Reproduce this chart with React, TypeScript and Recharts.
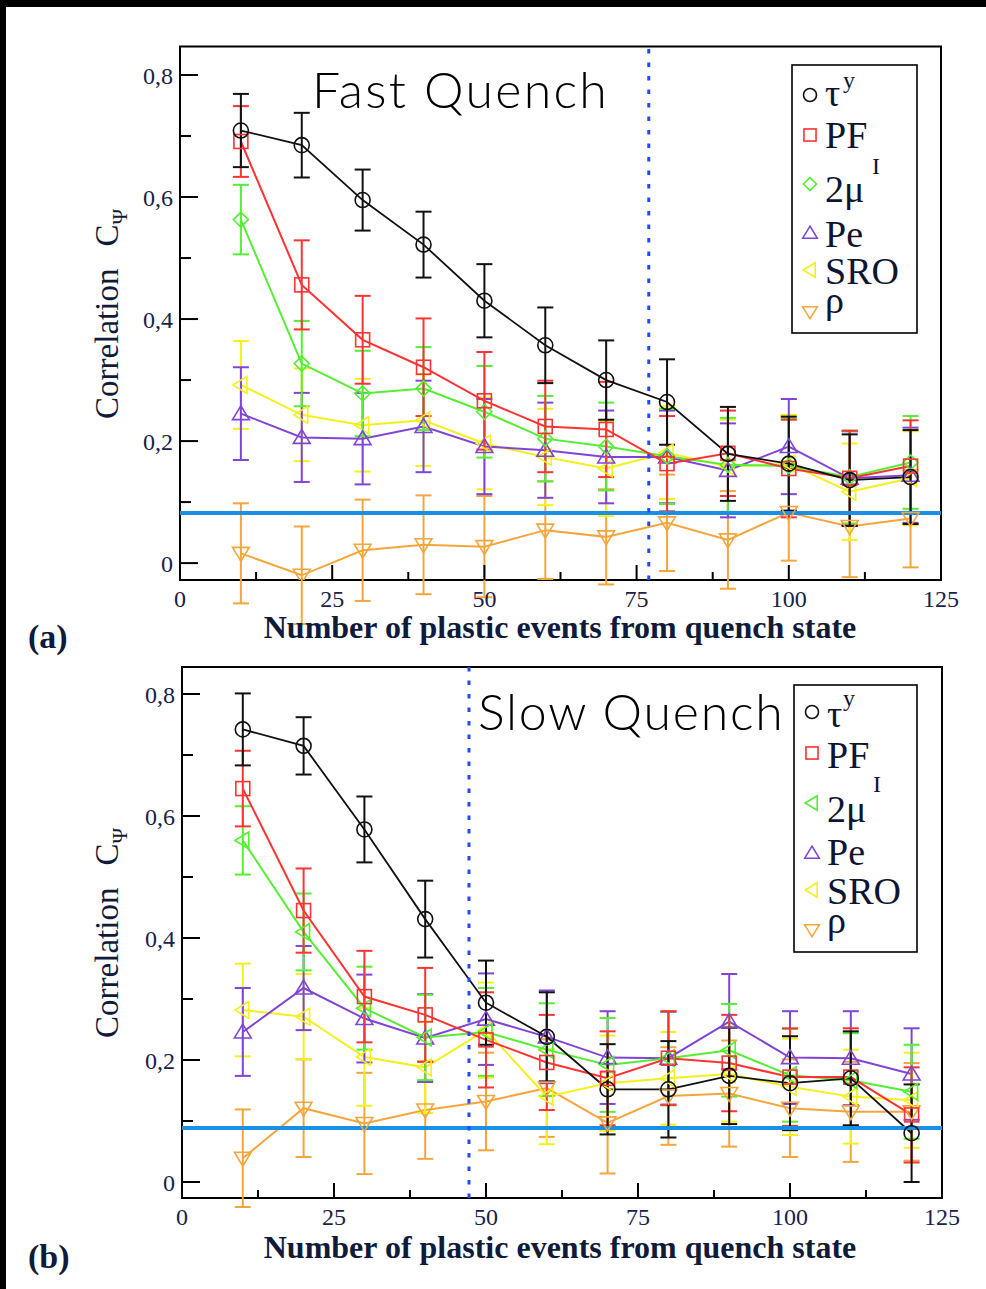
import {
  LineChart,
  Line,
  XAxis,
  YAxis,
  ErrorBar,
  ReferenceLine,
  ReferenceArea,
} from "recharts";

// number of plastic events since the quench
const events = [10, 20, 30, 40, 50, 60, 70, 80, 90, 100, 110, 120];

// (a) fast quench
const tauFast = [0.709, 0.685, 0.595, 0.522, 0.43, 0.357, 0.3, 0.264, 0.179, 0.163, 0.136, 0.141];
const tauFastErr = [0.06, 0.053, 0.05, 0.054, 0.06, 0.062, 0.065, 0.07, 0.077, 0.077, 0.075, 0.077];
const pfFast = [0.691, 0.456, 0.366, 0.321, 0.266, 0.224, 0.219, 0.163, 0.18, 0.155, 0.139, 0.159];
const pfFastErr = [0.058, 0.073, 0.072, 0.08, 0.08, 0.075, 0.078, 0.078, 0.07, 0.08, 0.078, 0.075];
const muFast = [0.563, 0.327, 0.278, 0.286, 0.248, 0.204, 0.191, 0.175, 0.161, 0.159, 0.141, 0.165];
const muFastErr = [0.057, 0.07, 0.07, 0.068, 0.075, 0.07, 0.072, 0.078, 0.077, 0.078, 0.076, 0.076];
const peFast = [0.245, 0.206, 0.204, 0.224, 0.191, 0.185, 0.174, 0.174, 0.152, 0.191, 0.139, 0.144];
const peFastErr = [0.076, 0.073, 0.075, 0.075, 0.078, 0.078, 0.076, 0.076, 0.077, 0.078, 0.077, 0.078];
const sroFast = [0.292, 0.243, 0.226, 0.234, 0.196, 0.174, 0.155, 0.181, 0.158, 0.163, 0.117, 0.139];
const sroFastErr = [0.072, 0.076, 0.076, 0.075, 0.075, 0.079, 0.078, 0.076, 0.077, 0.08, 0.079, 0.077];
const rhoFast = [0.016, -0.02, 0.021, 0.03, 0.027, 0.054, 0.043, 0.066, 0.038, 0.083, 0.06, 0.073];
const rhoFastErr = [0.082, 0.08, 0.083, 0.081, 0.083, 0.08, 0.078, 0.079, 0.08, 0.079, 0.083, 0.08];

// (b) slow quench
const tauSlow = [0.742, 0.715, 0.578, 0.431, 0.294, 0.238, 0.152, 0.152, 0.174, 0.162, 0.17, 0.08];
const tauSlowErr = [0.059, 0.047, 0.054, 0.063, 0.069, 0.073, 0.074, 0.079, 0.079, 0.077, 0.077, 0.08];
const pfSlow = [0.645, 0.445, 0.304, 0.274, 0.233, 0.196, 0.17, 0.203, 0.195, 0.172, 0.172, 0.11];
const pfSlowErr = [0.062, 0.069, 0.075, 0.077, 0.078, 0.078, 0.077, 0.077, 0.079, 0.08, 0.08, 0.078];
const muSlow = [0.56, 0.41, 0.285, 0.237, 0.246, 0.217, 0.192, 0.203, 0.216, 0.175, 0.167, 0.148];
const muSlowErr = [0.056, 0.063, 0.068, 0.07, 0.072, 0.076, 0.077, 0.077, 0.076, 0.076, 0.077, 0.077];
const peSlow = [0.246, 0.318, 0.268, 0.236, 0.267, 0.238, 0.204, 0.203, 0.263, 0.204, 0.203, 0.177];
const peSlowErr = [0.072, 0.069, 0.072, 0.072, 0.075, 0.076, 0.076, 0.076, 0.078, 0.076, 0.077, 0.075];
const sroSlow = [0.282, 0.271, 0.205, 0.188, 0.249, 0.14, 0.162, 0.17, 0.177, 0.156, 0.14, 0.134];
const sroSlowErr = [0.076, 0.07, 0.08, 0.075, 0.078, 0.078, 0.078, 0.076, 0.078, 0.079, 0.077, 0.078];
const rhoSlow = [0.039, 0.121, 0.096, 0.118, 0.132, 0.154, 0.097, 0.141, 0.145, 0.121, 0.115, 0.115];
const rhoSlowErr = [0.08, 0.08, 0.083, 0.08, 0.08, 0.08, 0.083, 0.08, 0.087, 0.08, 0.082, 0.08];

// horizontal noise level and vertical cut-off
const noiseFast = 0.082;
const noiseSlow = 0.0885;
const cutoffFast = 77;
const cutoffSlow = 47.2;

const xTicks = [0, 12.5, 25, 37.5, 50, 62.5, 75, 87.5, 100, 112.5, 125];
const yTicks = [0, 0.1, 0.2, 0.3, 0.4, 0.5, 0.6, 0.7, 0.8];

const COLORS = {
  tau: "#111111",
  pf: "#ff3333",
  mu: "#55ee33",
  pe: "#8044d6",
  sro: "#f4f01c",
  rho: "#f5a53c",
};

const SERIF = "'Liberation Serif', 'Times New Roman', serif";
const TICK_COLOR = "#18224a";

type Shape = "circle" | "square" | "diamond" | "up" | "down" | "left";

type Series = {
  key: string;
  color: string;
  shape: Shape;
  values: number[];
  errors: number[];
};

function Marker({ cx, cy, shape, color, s = 7.5 }: { cx: number; cy: number; shape: Shape; color: string; s?: number }) {
  if (cx == null || cy == null) return null;
  const common = { fill: "none", stroke: color, strokeWidth: 1.6 };
  if (shape === "circle") return <circle cx={cx} cy={cy} r={s} {...common} />;
  if (shape === "square")
    return <rect x={cx - s * 0.93} y={cy - s * 0.93} width={s * 1.86} height={s * 1.86} {...common} />;
  let pts: number[][] = [];
  if (shape === "diamond") pts = [[0, -s], [s, 0], [0, s], [-s, 0]];
  if (shape === "up") pts = [[0, -s * 1.05], [s * 1.12, s * 0.8], [-s * 1.12, s * 0.8]];
  if (shape === "down") pts = [[0, s * 1.05], [s * 1.12, -s * 0.8], [-s * 1.12, -s * 0.8]];
  if (shape === "left") pts = [[-s * 1.05, 0], [s * 0.8, -s * 1.12], [s * 0.8, s * 1.12]];
  return <polygon points={pts.map(([dx, dy]) => `${cx + dx},${cy + dy}`).join(" ")} {...common} />;
}

function XTick(props: any) {
  const { x, y, payload } = props;
  const v = payload.value;
  const major = v % 25 === 0;
  return (
    <g>
      <line x1={x} x2={x} y1={y} y2={y - (major ? 15 : 8)} stroke="#000" strokeWidth={2} />
      {major && (
        <text x={x} y={y + 27} textAnchor="middle" fontFamily={SERIF} fontSize={24} fill={TICK_COLOR}>
          {v}
        </text>
      )}
    </g>
  );
}

function YTick(props: any) {
  const { x, y, payload } = props;
  const v = payload.value;
  const major = Math.round(v * 10) % 2 === 0;
  const label = v === 0 ? "0" : v.toFixed(1).replace(".", ",");
  return (
    <g>
      <line x1={x} x2={x + (major ? 18 : 11)} y1={y} y2={y} stroke="#000" strokeWidth={2} />
      {major && (
        <text x={x - 7} y={y} dy="0.36em" textAnchor="end" fontFamily={SERIF} fontSize={24} fill={TICK_COLOR}>
          {label}
        </text>
      )}
    </g>
  );
}

function buildRows(series: Series[]) {
  return events.map((x, i) => {
    const row: Record<string, number> = { x };
    series.forEach((s) => {
      row[s.key] = s.values[i];
      row[s.key + "Err"] = s.errors[i];
    });
    return row;
  });
}

type PanelProps = {
  series: Series[];
  height: number;
  margin: { top: number; right: number; bottom: number; left: number };
  yDomain: [number, number];
  noise: number;
  cutoff: number;
};

function Panel({ series, height, margin, yDomain, noise, cutoff }: PanelProps) {
  const data = buildRows(series);
  return (
    <LineChart width={986} height={height} data={data} margin={margin}>
      <ReferenceArea
        x1={0}
        x2={125}
        y1={yDomain[0]}
        y2={yDomain[1]}
        fill="none"
        stroke="#000"
        strokeWidth={2}
        fillOpacity={0}
        ifOverflow="visible"
      />
      <XAxis
        type="number"
        dataKey="x"
        domain={[0, 125]}
        ticks={xTicks}
        interval={0}
        tickSize={0}
        tickMargin={0}
        tickLine={false}
        axisLine={false}
        height={40}
        allowDataOverflow
        tick={(p: any) => <XTick {...p} />}
      />
      <YAxis
        type="number"
        domain={yDomain}
        ticks={yTicks}
        interval={0}
        tickSize={0}
        tickMargin={0}
        tickLine={false}
        axisLine={false}
        width={60}
        allowDataOverflow
        tick={(p: any) => <YTick {...p} />}
      />
      {series.map((s) => (
        <Line
          key={s.key}
          type="linear"
          dataKey={s.key}
          stroke={s.color}
          strokeWidth={s.key === "tau" ? 1.8 : 2}
          isAnimationActive={false}
          dot={(p: any) => (
            <Marker key={`${s.key}-${p.index}`} cx={p.cx} cy={p.cy} shape={s.shape} color={s.color} />
          )}
          activeDot={false}
        >
          <ErrorBar
            dataKey={s.key + "Err"}
            direction="y"
            width={8}
            strokeWidth={2}
            stroke={s.color}
          />
        </Line>
      ))}
      <ReferenceLine y={noise} stroke="#1b8fe3" strokeWidth={4} />
      <ReferenceLine x={cutoff} stroke="#2448ff" strokeWidth={3} strokeDasharray="4.5 9" />
    </LineChart>
  );
}

const fastSeries: Series[] = [
  { key: "rho", color: COLORS.rho, shape: "down", values: rhoFast, errors: rhoFastErr },
  { key: "sro", color: COLORS.sro, shape: "left", values: sroFast, errors: sroFastErr },
  { key: "pe", color: COLORS.pe, shape: "up", values: peFast, errors: peFastErr },
  { key: "mu", color: COLORS.mu, shape: "diamond", values: muFast, errors: muFastErr },
  { key: "pf", color: COLORS.pf, shape: "square", values: pfFast, errors: pfFastErr },
  { key: "tau", color: COLORS.tau, shape: "circle", values: tauFast, errors: tauFastErr },
];

const slowSeries: Series[] = [
  { key: "rho", color: COLORS.rho, shape: "down", values: rhoSlow, errors: rhoSlowErr },
  { key: "sro", color: COLORS.sro, shape: "left", values: sroSlow, errors: sroSlowErr },
  { key: "pe", color: COLORS.pe, shape: "up", values: peSlow, errors: peSlowErr },
  { key: "mu", color: COLORS.mu, shape: "left", values: muSlow, errors: muSlowErr },
  { key: "pf", color: COLORS.pf, shape: "square", values: pfSlow, errors: pfSlowErr },
  { key: "tau", color: COLORS.tau, shape: "circle", values: tauSlow, errors: tauSlowErr },
];

type LegendRow = { shape: Shape; color: string; sy: number; by: number; text: string; sup?: string; supX?: number; supY?: number };

function LegendBox({ x, y, w, h, tx, rows }: { x: number; y: number; w: number; h: number; tx: number; rows: LegendRow[] }) {
  return (
    <g>
      <rect x={x} y={y} width={w} height={h} fill="#fff" stroke="#000" strokeWidth={1.6} />
      {rows.map((r, i) => (
        <g key={i}>
          <Marker cx={x + 18} cy={r.sy} shape={r.shape} color={r.color} s={6.5} />
          <text x={tx} y={r.by} fontFamily={SERIF} fontSize={38} fill="#0d1530">
            {r.text}
          </text>
          {r.sup && (
            <text x={r.supX} y={r.supY} fontFamily={SERIF} fontSize={24} fill="#0d1530">
              {r.sup}
            </text>
          )}
        </g>
      ))}
    </g>
  );
}

function YLabel({ cy }: { cy: number }) {
  return (
    <text
      x={118}
      y={cy}
      transform={`rotate(-90 118 ${cy})`}
      textAnchor="middle"
      fontFamily={SERIF}
      fontSize={33}
      fill="#101a3a"
    >
      Correlation
      <tspan dx={22}>C</tspan>
      <tspan dy={9} fontSize={21}>Ψ</tspan>
    </text>
  );
}

const TITLE_FONT = "Lato, 'Open Sans', sans-serif";

export default function App() {
  const legendFast: LegendRow[] = [
    { shape: "circle", color: COLORS.tau, sy: 95, by: 106, text: "τ", sup: "y", supX: 843, supY: 88 },
    { shape: "square", color: COLORS.pf, sy: 135, by: 148, text: "PF" },
    { shape: "diamond", color: COLORS.mu, sy: 184, by: 202, text: "2μ", sup: "I", supX: 872, supY: 174 },
    { shape: "up", color: COLORS.pe, sy: 233, by: 247, text: "Pe" },
    { shape: "left", color: COLORS.sro, sy: 270, by: 284, text: "SRO" },
    { shape: "down", color: COLORS.rho, sy: 312, by: 313, text: "ρ" },
  ];
  const legendSlow: LegendRow[] = [
    { shape: "circle", color: COLORS.tau, sy: 712, by: 727, text: "τ", sup: "y", supX: 843, supY: 706 },
    { shape: "square", color: COLORS.pf, sy: 753, by: 768, text: "PF" },
    { shape: "left", color: COLORS.mu, sy: 803, by: 822, text: "2μ", sup: "I", supX: 873, supY: 792 },
    { shape: "up", color: COLORS.pe, sy: 853, by: 865, text: "Pe" },
    { shape: "left", color: COLORS.sro, sy: 890, by: 904, text: "SRO" },
    { shape: "down", color: COLORS.rho, sy: 930, by: 933, text: "ρ" },
  ];

  return (
    <div style={{ position: "absolute", left: 0, top: 0, width: 986, height: 1289, background: "#fff", overflow: "hidden" }}>
      <div style={{ position: "absolute", left: 0, top: 0 }}>
        <Panel
          series={fastSeries}
          height={650}
          margin={{ top: 46.5, right: 45, bottom: 30, left: 120 }}
          yDomain={[-0.0277, 0.8467]}
          noise={noiseFast}
          cutoff={cutoffFast}
        />
      </div>
      <div style={{ position: "absolute", left: 0, top: 620 }}>
        <Panel
          series={slowSeries}
          height={669}
          margin={{ top: 47, right: 44, bottom: 51, left: 122 }}
          yDomain={[-0.0262, 0.8443]}
          noise={noiseSlow}
          cutoff={cutoffSlow}
        />
      </div>
      <svg width={986} height={1289} style={{ position: "absolute", left: 0, top: 0, pointerEvents: "none" }}>
        <rect x={0} y={0} width={986} height={7} fill="#000" />
        <rect x={0} y={0} width={6} height={1289} fill="#000" />

        <text x={312} y={108} fontFamily={TITLE_FONT} fontWeight={300} fontSize={50} letterSpacing={2.3} fill="#000">
          Fast Quench
        </text>
        <text x={478} y={730} fontFamily={TITLE_FONT} fontWeight={300} fontSize={50} letterSpacing={1.8} fill="#000">
          Slow Quench
        </text>

        <LegendBox x={792} y={65} w={125} h={268} tx={825} rows={legendFast} />
        <LegendBox x={794} y={685} w={123} h={267} tx={827} rows={legendSlow} />

        <YLabel cy={314} />
        <YLabel cy={933} />

        <text x={560} y={638} textAnchor="middle" fontFamily={SERIF} fontWeight="bold" fontSize={32} fill="#101a3a">
          Number of plastic events from quench state
        </text>
        <text x={560} y={1258} textAnchor="middle" fontFamily={SERIF} fontWeight="bold" fontSize={32} fill="#101a3a">
          Number of plastic events from quench state
        </text>

        <text x={28} y={648} fontFamily={SERIF} fontWeight="bold" fontSize={34} fill="#101a3a">
          (a)
        </text>
        <text x={28} y={1268} fontFamily={SERIF} fontWeight="bold" fontSize={34} fill="#101a3a">
          (b)
        </text>
      </svg>
    </div>
  );
}
